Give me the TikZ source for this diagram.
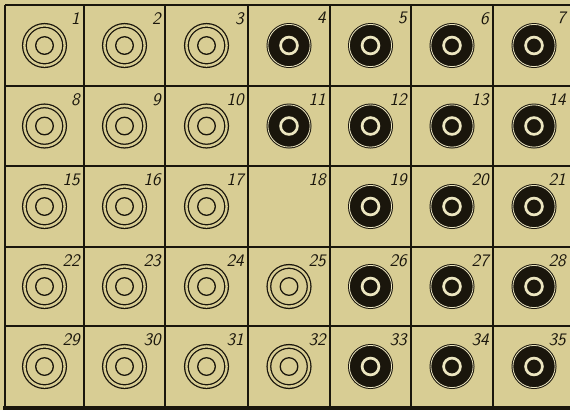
\documentclass[tikz,border=0pt]{standalone}
\usepackage{tikz}
\usetikzlibrary{positioning}
\definecolor{paper}{RGB}{216,205,148}
\definecolor{ink}{RGB}{26,22,12}
\definecolor{shine}{RGB}{236,230,192}
\tikzstyle{grid} = [draw=ink, line width=1.5pt]
\tikzstyle{ring} = [draw=ink, line width=1.1pt]
\tikzstyle{num} = [anchor=north east, inner sep=0pt, text=ink, font=\fontsize{15}{15}\selectfont\sffamily\itshape]

\begin{document}
\begin{tikzpicture}[x=0.03cm, y=-0.03cm]

% Paper
\fill[paper] (0,0) rectangle (570,410);
\useasboundingbox (0,0) rectangle (570,410);

% Grid
\foreach \gx in {5,84,165,248,330,411,493}
  \draw[grid] (\gx,5) -- (\gx,407);
\foreach \gy in {5,86,166,247,326}
  \draw[grid] (5,\gy) -- (570,\gy);
\draw[ink, line width=3.4pt] (3,407.5) -- (570,407.5);

% Cell centres and numbers
\foreach \x/\xr [count=\c] in {44.5/80,124.5/161,206.5/244,289/326,370.5/407,452/489,534/566}
  \foreach \y/\yt [count=\r] in {45.5/12,126/93,206.5/173,286.5/254,366.5/333} {
    \pgfmathtruncatemacro\n{(\r-1)*7+\c}
    \coordinate (c\n) at (\x,\y);
    \node[num] (n\n) at (\xr,\yt) {\n};
  }

% White rings
\foreach \n in {1,2,3,8,9,10,15,16,17,22,23,24,25,29,30,31,32} {
  \draw[ring, double=paper, double distance=2pt] (c\n) circle (20.1);
  \draw[ring] (c\n) circle (8.8);
}

% Black cups
\foreach \n in {4,5,6,7,11,12,13,14,19,20,21,26,27,28,33,34,35} {
  \fill[ink] (c\n) circle (22.5);
  \draw[shine, line width=0.7pt] (c\n) circle (21.1);
  \draw[shine, line width=2.3pt] (c\n) circle (8.4);
}

\end{tikzpicture}
\end{document}
